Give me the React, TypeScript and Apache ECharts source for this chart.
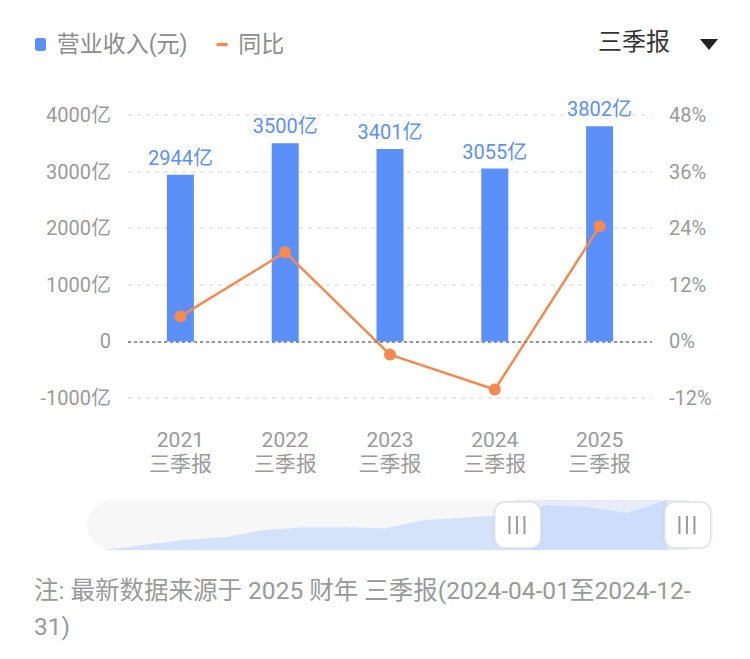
import React, { useEffect, useRef } from "react";
import * as echarts from "echarts";

// 报告期（全部年份，图上只显示最后五年，滑块里显示全部）
const years = [
  "2011", "2012", "2013", "2014", "2015", "2016", "2017", "2018",
  "2019", "2020", "2021", "2022", "2023", "2024", "2025",
];
const periodName = "三季报";
// 营业收入（亿元）
const revenue = [
  930, 1217, 1504, 1659, 2078, 2233, 2240, 2176,
  2652, 2796, 2944, 3500, 3401, 3055, 3802,
];
// 同比（%）
const yoy = [
  null, 30.9, 23.6, 10.3, 25.3, 7.5, 0.3, -2.9,
  21.9, 5.4, 5.3, 18.9, -2.8, -10.2, 24.4,
];
const revenueMin = -1000;
const revenueMax = 4000;
const revenueStep = 1000;
const yoyMin = -12;
const yoyMax = 48;
const yoyStep = 12;
const firstShown = "2021";
const lastShown = "2025";
const footnote = "注: 最新数据来源于 2025 财年 三季报(2024-04-01至2024-12-\n31)";

const FONT = "Roboto, 'Noto Sans CJK SC', sans-serif";
const BLUE = "#5B8FF9";
const ORANGE = "#F7894E";
const GREY = "#9a9a9a";

const ROUND_HANDLE =
  "path://M22,0H78A22,22,0,0,1,100,22V78A22,22,0,0,1,78,100H22A22,22,0,0,1,0,78V22A22,22,0,0,1,22,0Z";
const BAR_HANDLE = "path://M0,0H2V18H0Z M7.5,0H9.5V18H7.5Z M15,0H17V18H15Z";

const App: React.FC = () => {
  const chartRef = useRef<HTMLDivElement | null>(null);

  useEffect(() => {
    const chart = echarts.init(chartRef.current, null, { renderer: "svg" });
    const start = years.indexOf(firstShown);
    const end = years.indexOf(lastShown);

    const sliderBase = {
      type: "slider",
      xAxisIndex: [0],
      startValue: start,
      endValue: end,
      left: 85,
      right: 63,
      top: 500,
      height: 50,
      showDataShadow: false,
      showDetail: false,
      brushSelect: false,
      moveHandleSize: 0,
      backgroundColor: "transparent",
      borderColor: "transparent",
    };

    chart.setOption({
      animation: false,
      textStyle: { fontFamily: FONT },
      legend: {
        left: 30,
        top: 28,
        itemWidth: 11,
        itemHeight: 13,
        itemGap: 29,
        selectedMode: false,
        data: [
          { name: "营业收入(元)", icon: "roundRect" },
          { name: "同比", icon: "path://M0,0H10V3H0Z" },
        ],
        formatter: (n: string) => " " + n,
        textStyle: { fontSize: 23, color: "#8c8c8c", fontFamily: FONT },
      },
      grid: [
        { left: 128, right: 98, top: 115, bottom: 261 },
        { left: 103, width: 564, top: 500, height: 50 },
      ],
      xAxis: [
        {
          type: "category",
          gridIndex: 0,
          data: years,
          axisLine: { show: false },
          axisTick: { show: false },
          axisLabel: {
            formatter: (v: string) => `${v}\n${periodName}`,
            fontSize: 21,
            lineHeight: 24,
            color: GREY,
            margin: 30,
            fontFamily: FONT,
          },
        },
        {
          type: "category",
          gridIndex: 1,
          data: years,
          boundaryGap: false,
          show: false,
        },
      ],
      yAxis: [
        {
          type: "value",
          gridIndex: 0,
          min: revenueMin,
          max: revenueMax,
          interval: revenueStep,
          axisLine: { show: false },
          axisTick: { show: false },
          axisLabel: {
            formatter: (v: number) => (v === 0 ? "0" : `${v}亿`),
            fontSize: 20,
            color: GREY,
            margin: 17,
            fontFamily: FONT,
          },
          splitLine: { lineStyle: { type: [4, 5], color: "#e4e4e4", width: 1.5 } },
        },
        {
          type: "value",
          gridIndex: 0,
          position: "right",
          min: yoyMin,
          max: yoyMax,
          interval: yoyStep,
          axisLine: { show: false },
          axisTick: { show: false },
          axisLabel: {
            formatter: "{value}%",
            fontSize: 20,
            color: GREY,
            margin: 17,
            fontFamily: FONT,
          },
          splitLine: { show: false },
        },
        {
          type: "value",
          gridIndex: 1,
          min: "dataMin",
          max: "dataMax",
          show: false,
          splitLine: { show: false },
        },
      ],
      dataZoom: [
        {
          ...sliderBase,
          fillerColor: "rgba(177,202,255,0.22)",
          handleIcon: ROUND_HANDLE,
          handleSize: "92%",
          handleStyle: {
            color: "#ffffff",
            borderColor: "#e2e2e2",
            borderWidth: 1.5,
            shadowBlur: 3,
            shadowColor: "rgba(0,0,0,0.08)",
          },
          z: 4,
        },
        {
          ...sliderBase,
          fillerColor: "transparent",
          handleIcon: BAR_HANDLE,
          handleSize: "36%",
          handleStyle: { color: "#9a9a9a", borderWidth: 0 },
          z: 6,
        },
      ],
      graphic: [
        {
          type: "rect",
          left: 87,
          top: 500,
          z: 0,
          silent: true,
          shape: { width: 623, height: 50, r: 25 },
          style: { fill: "#f7f7f7" },
        },
        {
          type: "text",
          left: 598,
          top: 30,
          style: { text: "三季报", fontSize: 24, fill: "#333333", fontFamily: FONT },
        },
        {
          type: "polygon",
          shape: { points: [[700, 39], [718, 39], [709, 50]] },
          style: { fill: "#222222" },
        },
        {
          type: "text",
          left: 34,
          top: 572,
          style: {
            text: footnote,
            fontSize: 24.5,
            lineHeight: 36,
            fill: "#999999",
            fontFamily: FONT,
          },
        },
      ],
      series: [
        {
          name: "营业收入(元)",
          type: "bar",
          xAxisIndex: 0,
          yAxisIndex: 0,
          data: revenue,
          barWidth: 27,
          itemStyle: { color: BLUE },
          label: {
            show: true,
            position: "top",
            distance: 7,
            formatter: "{c}亿",
            fontSize: 20,
            color: BLUE,
            fontFamily: FONT,
          },
          markLine: {
            silent: true,
            symbol: ["none", "none"],
            label: { show: false },
            lineStyle: { type: [3, 3], color: "#777777", width: 1.5 },
            data: [{ yAxis: 0 }],
          },
        },
        {
          name: "同比",
          type: "line",
          xAxisIndex: 0,
          yAxisIndex: 1,
          data: yoy,
          symbol: "circle",
          symbolSize: 12,
          itemStyle: { color: ORANGE },
          lineStyle: { color: ORANGE, width: 2.5 },
          z: 3,
        },
        {
          name: "shadow",
          type: "line",
          xAxisIndex: 1,
          yAxisIndex: 2,
          data: revenue,
          symbol: "none",
          silent: true,
          lineStyle: { width: 0 },
          areaStyle: { color: "#d5e3fa", opacity: 1, origin: "start" },
          z: 1,
        },
      ],
    });

    return () => {
      chart.dispose();
    };
  }, []);

  return (
    <div
      ref={chartRef}
      style={{ position: "fixed", left: 0, top: 0, width: 750, height: 659, background: "#fff" }}
    ></div>
  );
};

export default App;
